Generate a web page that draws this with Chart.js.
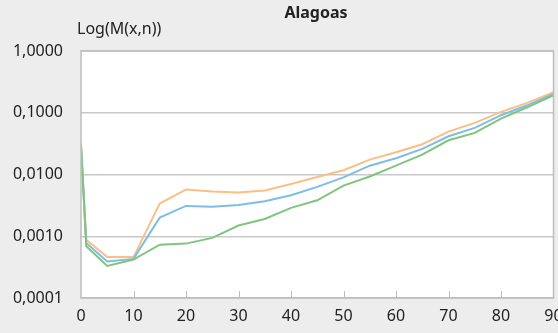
<!DOCTYPE html>
<html>
<head>
<meta charset="utf-8">
<script src="https://cdn.jsdelivr.net/npm/chart.js@4/dist/chart.umd.min.js"></script>
<style>
  html, body { margin:0; padding:0; background:#ecedec; }
  #wrap { position:relative; width:558px; height:333px; background:#ecedec; overflow:hidden; }
  canvas { position:absolute; left:0; top:0; }
  .lbl { position:absolute; font-family:"Noto Sans", sans-serif; color:#222; white-space:nowrap; }
  #title { left:316px; top:1px; transform:translateX(-50%); font-size:16px; font-weight:bold; }
  #ylab { left:77px; top:17px; font-size:16px; }
</style>
</head>
<body>
<div id="wrap">
  <canvas id="c" width="558" height="333"></canvas>
  <div id="title" class="lbl">Alagoas</div>
  <div id="ylab" class="lbl">Log(M(x,n))</div>
</div>
<script>
const ages = [0,1,5,10,15,20,25,30,35,40,45,50,55,60,65,70,75,80,85,90];
const seriesOrange = [0.0325,0.00088,0.00046,0.00046,0.0034,0.0057,0.0053,0.0051,0.0055,0.0070,0.0091,0.0117,0.0174,0.0229,0.0309,0.0495,0.0686,0.1035,0.1445,0.215];
const seriesBlue   = [0.0300,0.00078,0.00039,0.00043,0.0020,0.0031,0.0030,0.0032,0.0037,0.0046,0.0063,0.0090,0.0139,0.0183,0.0260,0.0416,0.0569,0.0912,0.132,0.202];
const seriesGreen  = [0.0286,0.00069,0.00033,0.00042,0.00073,0.00076,0.00094,0.00149,0.0019,0.00288,0.00382,0.0066,0.0093,0.0139,0.0210,0.0358,0.0472,0.0806,0.1226,0.192];
const yTickValues = [0.0001,0.001,0.01,0.1,1];
const yTickLabels = ["0,0001","0,0010","0,0100","0,1000","1,0000"];
const xTickValues = [0,10,20,30,40,50,60,70,80,90];

const pts = arr => ages.map((a,i)=>({x:a, y:arr[i]}));

const frame = {
  id:'frame',
  beforeDraw(chart){
    const {ctx, chartArea:a} = chart;
    ctx.save();
    ctx.fillStyle = '#ffffff';
    ctx.fillRect(a.left, a.top, a.right-a.left, a.bottom-a.top);
    ctx.restore();
  },
  afterDatasetsDraw(chart){
    const {ctx, chartArea:a, scales} = chart;
    ctx.save();
    ctx.strokeStyle = '#bdbdbd';
    ctx.lineWidth = 1.5;
    ctx.strokeRect(a.left, a.top, a.right-a.left, a.bottom-a.top);
    ctx.beginPath();
    xTickValues.slice(1,-1).forEach(v=>{
      const px = Math.round(scales.x.getPixelForValue(v))+0.5;
      ctx.moveTo(px, a.bottom);
      ctx.lineTo(px, a.bottom-7);
    });
    ctx.lineWidth = 1;
    ctx.stroke();
    ctx.restore();
  }
};

const font = {family:'"Noto Sans", sans-serif', size:16};

new Chart(document.getElementById('c'), {
  type:'line',
  data:{
    datasets:[
      {data:pts(seriesGreen), borderColor:'#80c47f', borderWidth:2, pointRadius:0, tension:0},
      {data:pts(seriesBlue), borderColor:'#7dbde8', borderWidth:2, pointRadius:0, tension:0},
      {data:pts(seriesOrange), borderColor:'#fbbf83', borderWidth:2, pointRadius:0, tension:0}
    ]
  },
  options:{
    responsive:false,
    animation:false,
    devicePixelRatio:1,
    layout:{padding:{top:51, right:4.5, left:0, bottom:0}},
    plugins:{legend:{display:false}, tooltip:{enabled:false}, title:{display:false}},
    scales:{
      x:{
        type:'linear', min:0, max:90,
        afterBuildTicks(s){ s.ticks = xTickValues.map(v=>({value:v})); },
        ticks:{font, color:'#222', padding:9, maxRotation:0, autoSkip:false},
        grid:{display:true, drawOnChartArea:false, drawTicks:false, color:'#bdbdbd'},
        border:{display:false},
        afterFit(s){ s.height = 35; s.paddingLeft = 0; s.paddingRight = 0; }
      },
      y:{
        type:'logarithmic', min:0.0001, max:1,
        afterBuildTicks(s){ s.ticks = yTickValues.map(v=>({value:v})); },
        ticks:{font, color:'#222', padding:18, callback:(v,i)=>yTickLabels[i], autoSkip:false},
        grid:{color:'#c8c8c8', lineWidth:1.5, drawTicks:false},
        border:{display:false},
        afterFit(s){ s.width = 81; s.paddingTop = 0; s.paddingBottom = 0; }
      }
    }
  },
  plugins:[frame]
});
</script>
</body>
</html>
